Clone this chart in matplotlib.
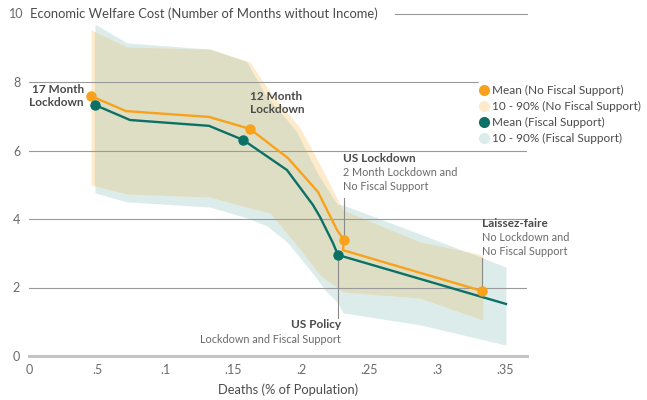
import matplotlib
matplotlib.use("Agg")
import matplotlib.pyplot as plt
from matplotlib.lines import Line2D

plt.rcParams['font.family'] = ['Lato', 'DejaVu Sans']

# Mean paths (deaths % of population, months without income)
nofs_x = [0.0456, 0.0713, 0.1324, 0.1625, 0.1904, 0.2125, 0.2265, 0.2316, 0.2309, 0.3330]
nofs_y = [7.59, 7.15, 6.98, 6.63, 5.78, 4.79, 3.68, 3.39, 3.09, 1.90]
fs_x = [0.0485, 0.0743, 0.1324, 0.1574, 0.1897, 0.2088, 0.2140, 0.2199, 0.2235, 0.2272, 0.3507]
fs_y = [7.33, 6.89, 6.72, 6.31, 5.43, 4.41, 4.06, 3.59, 3.30, 2.95, 1.52]

# 10 - 90% bands
nofs_band_x = [0.0456, 0.0721, 0.1331, 0.1625, 0.1772, 0.1993, 0.2140, 0.2309, 0.2875, 0.3338]
nofs_band_hi = [9.52, 9.02, 8.96, 8.58, 7.71, 6.66, 5.58, 4.26, 3.33, 2.95]
nofs_band_lo = [4.99, 4.73, 4.64, 4.32, 4.18, 3.12, 2.36, 1.87, 1.69, 1.05]
fs_band_x = [0.0485, 0.0721, 0.1331, 0.1603, 0.1750, 0.1897, 0.1971, 0.2118, 0.2176,
             0.2272, 0.2309, 0.2875, 0.3507]
fs_band_hi = [9.69, 9.14, 8.96, 8.58, 7.56, 6.89, 6.54, 5.37, 4.99, 4.41, 4.41, 3.56, 2.60]
fs_band_lo = [4.76, 4.50, 4.35, 4.03, 3.80, 3.33, 2.98, 2.25, 1.93, 1.55, 1.26, 0.91, 0.32]

# Highlighted scenarios
nofs_pts_x = [0.0456, 0.1625, 0.2316, 0.3330]
nofs_pts_y = [7.59, 6.63, 3.39, 1.90]
fs_pts_x = [0.0485, 0.1574, 0.2272]
fs_pts_y = [7.33, 6.31, 2.95]

x_ticks = [0, 0.05, 0.1, 0.15, 0.2, 0.25, 0.3, 0.35]
x_tick_labels = ['0', '.5', '.1', '.15', '.2', '.25', '.3', '.35']
y_ticks = [0, 2, 4, 6, 8, 10]

ORANGE = '#F8A21C'
GREEN = '#0B7166'
PEACH = '#FDEBCB'
ICE = '#DCECEB'
OLIVE = '#DEDEC4'
DARK = '#4A4A4A'
GREY = '#6A6A6A'

fig = plt.figure(figsize=(6.47, 4.0), dpi=100)
ax = fig.add_axes([29 / 647, 1 - 356 / 400, 498 / 647, 342.5 / 400])

# bands: ice, peach, overlap clipped to the ice band
ice = ax.fill_between(fs_band_x, fs_band_lo, fs_band_hi, color=ICE, lw=0, zorder=1)
ax.fill_between(nofs_band_x, nofs_band_lo, nofs_band_hi, color=PEACH, lw=0, zorder=1.1)
over = ax.fill_between(nofs_band_x, nofs_band_lo, nofs_band_hi, color=OLIVE, lw=0, zorder=1.2)
over.set_clip_path(ice.get_paths()[0], ax.transData)

# grid (top line starts after the axis title)
for yv in y_ticks[1:-1]:
    ax.axhline(yv, color='#9A9A9A', lw=0.8, zorder=2)
ax.axhline(y_ticks[-1], xmin=0.735, color='#9A9A9A', lw=0.8, zorder=2, clip_on=False)
ax.axhline(0, color='#C4C4C4', lw=2.2, zorder=2, clip_on=False)

# mean lines
ax.plot(nofs_x, nofs_y, color=ORANGE, lw=1.7, zorder=4, solid_joinstyle='round')
ax.plot(fs_x, fs_y, color=GREEN, lw=1.7, zorder=4, solid_joinstyle='round')
ax.plot(nofs_pts_x, nofs_pts_y, 'o', color=ORANGE, ms=6.5, zorder=5)
ax.plot(fs_pts_x, fs_pts_y, 'o', color=GREEN, ms=6.5, zorder=5)

# leader lines
ax.plot([0.2316, 0.2316], [4.61, 3.39], color='#8A8A8A', lw=0.8, zorder=3)
ax.plot([0.3330, 0.3330], [2.86, 1.90], color='#8A8A8A', lw=0.8, zorder=3)
ax.plot([0.2272, 0.2272], [2.95, 1.11], color='#8A8A8A', lw=0.8, zorder=3)

# annotations
ax.text(0.0404, 7.93, '17 Month\nLockdown', ha='right', va='top', fontsize=8.5,
        fontweight='bold', color=DARK, linespacing=1.15, zorder=6)
ax.text(0.1625, 7.73, '12 Month\nLockdown', ha='left', va='top', fontsize=8.5,
        fontweight='bold', color=DARK, linespacing=1.15, zorder=6)
ax.text(0.2309, 5.92, 'US Lockdown', ha='left', va='top', fontsize=8.5,
        fontweight='bold', color=DARK, zorder=6)
ax.text(0.2309, 5.52, '2 Month Lockdown and\nNo Fiscal Support', ha='left', va='top',
        fontsize=7.8, color=GREY, linespacing=1.3, zorder=6)
ax.text(0.3330, 4.02, 'Laissez-faire', ha='left', va='top', fontsize=8.5,
        fontweight='bold', color=DARK, zorder=6)
ax.text(0.3330, 3.62, 'No Lockdown and\nNo Fiscal Support', ha='left', va='top',
        fontsize=7.8, color=GREY, linespacing=1.3, zorder=6)
ax.text(0.2294, 1.07, 'US Policy', ha='right', va='top', fontsize=8.5,
        fontweight='bold', color=DARK, zorder=6)
ax.text(0.2294, 0.64, 'Lockdown and Fiscal Support', ha='right', va='top',
        fontsize=7.8, color=GREY, zorder=6)

# axis titles
ax.text(0.0008, 10, 'Economic Welfare Cost (Number of Months without Income)',
        ha='left', va='center', fontsize=9.4, color=DARK, zorder=6, clip_on=False)
ax.text(0.1904, -0.99, 'Deaths (% of Population)', ha='center', va='center',
        fontsize=9.3, color=DARK, clip_on=False)

ax.set_xlim(0, 0.3662)
ax.set_ylim(0, 10)
ax.set_xticks(x_ticks)
ax.set_xticklabels(x_tick_labels)
ax.set_yticks(y_ticks)
ax.set_yticklabels([str(v) for v in y_ticks], ha='center')
ax.tick_params(axis='x', length=0, pad=6, labelsize=9, labelcolor=GREY)
ax.tick_params(axis='y', length=0, pad=9, labelsize=9, labelcolor=GREY)
for s in ax.spines.values():
    s.set_visible(False)

handles = [
    Line2D([], [], marker='o', ls='', color=ORANGE, ms=7),
    Line2D([], [], marker='o', ls='', color=PEACH, ms=7),
    Line2D([], [], marker='o', ls='', color=GREEN, ms=7),
    Line2D([], [], marker='o', ls='', color=ICE, ms=7),
]
labels = ['Mean (No Fiscal Support)', '10 - 90% (No Fiscal Support)',
          'Mean (Fiscal Support)', '10 - 90% (Fiscal Support)']
leg = fig.legend(handles, labels, loc='upper left', bbox_to_anchor=(478 / 647, 1 - 82 / 400),
                 frameon=True, facecolor='white', edgecolor='none', framealpha=1,
                 fontsize=8.5, handlelength=0.6, handletextpad=0.35, labelspacing=0.42,
                 borderpad=0.25, borderaxespad=0)
for t in leg.get_texts():
    t.set_color(DARK)

fig.savefig('out.png', dpi=100)
